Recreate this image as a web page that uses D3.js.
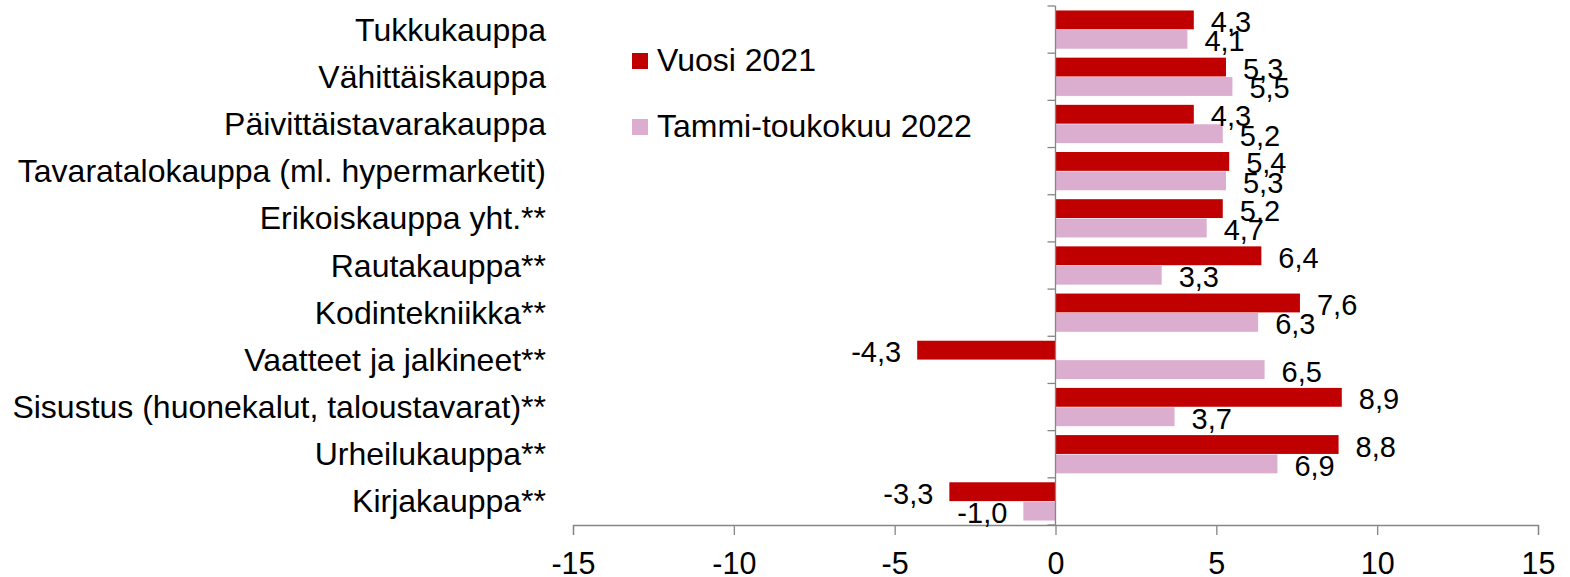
<!DOCTYPE html>
<html>
<head>
<meta charset="utf-8">
<script src="https://cdn.jsdelivr.net/npm/d3@7"></script>
<style>
  body { margin: 0; background: #fff; }
  svg { display: block; font-family: "Liberation Sans", Arial, sans-serif; }
</style>
</head>
<body>
<svg></svg>
<script>
/*
*  DATA
*/
let categories = [
  'Tukkukauppa',
  'Vähittäiskauppa',
  'Päivittäistavarakauppa',
  'Tavaratalokauppa (ml. hypermarketit)',
  'Erikoiskauppa yht.**',
  'Rautakauppa**',
  'Kodintekniikka**',
  'Vaatteet ja jalkineet**',
  'Sisustus (huonekalut, taloustavarat)**',
  'Urheilukauppa**',
  'Kirjakauppa**'
]
let vuosi2021 = [4.3, 5.3, 4.3, 5.4, 5.2, 6.4, 7.6, -4.3, 8.9, 8.8, -3.3]
let tammiToukokuu2022 = [4.1, 5.5, 5.2, 5.3, 4.7, 3.3, 6.3, 6.5, 3.7, 6.9, -1.0]
let seriesNames = ['Vuosi 2021', 'Tammi-toukokuu 2022']
let colors = ['#c00000', '#dbadce']
let xTicks = [-15, -10, -5, 0, 5, 10, 15]

/*
*  RUN
*/
let width = 1570,
    height = 577

let svg = d3.select('svg').attr('width', width).attr('height', height)

let x = d3.scaleLinear().domain([-15, 15]).range([573, 1538])
let y = d3.scaleBand().domain(categories).range([6, 525])
let inner = d3.scaleBand().domain([0, 1]).range([0, y.bandwidth()]).paddingOuter(0.23).paddingInner(0.03)

let fmt = v => d3.format('.1f')(v).replace('.', ',').replace('−', '-')

// bars
let series = [vuosi2021, tammiToukokuu2022]
series.forEach((vals, s) => {
  let g = svg.append('g').attr('class', 'series-' + s)
  g.selectAll('rect')
    .data(vals)
    .enter()
    .append('rect')
    .attr('x', d => x(Math.min(0, d)))
    .attr('y', (d, i) => y(categories[i]) + inner(s))
    .attr('width', d => Math.abs(x(d) - x(0)))
    .attr('height', inner.bandwidth())
    .attr('fill', colors[s])
})

// axes
let xAxis = d3.axisBottom(x).tickValues(xTicks).tickSize(10).tickFormat(d => d3.format('d')(d).replace('−', '-'))
let gx = svg.append('g').attr('transform', 'translate(0,525)').call(xAxis)
gx.select('.domain').attr('stroke', '#868686').attr('stroke-width', 1.3)
gx.selectAll('.tick line').attr('stroke', '#868686').attr('stroke-width', 1.3)
gx.selectAll('.tick text')
  .attr('y', 49)
  .attr('dy', 0)
  .attr('fill', '#000')
  .style('font-size', '30.5px')
  .style('font-family', '"Liberation Sans", Arial, sans-serif')

let boundaries = d3.range(categories.length + 1).map(i => 6 + i * y.step())
let gy = svg.append('g').attr('class', 'y-axis')
gy.append('line')
  .attr('x1', x(0)).attr('x2', x(0))
  .attr('y1', 6).attr('y2', 525)
  .attr('stroke', '#868686').attr('stroke-width', 1.3)
gy.selectAll('.yt')
  .data(boundaries)
  .enter()
  .append('line')
  .attr('class', 'yt')
  .attr('x1', x(0) - 8).attr('x2', x(0))
  .attr('y1', d => d).attr('y2', d => d)
  .attr('stroke', '#868686').attr('stroke-width', 1.3)

// category labels
svg.append('g').selectAll('text')
  .data(categories)
  .enter()
  .append('text')
  .attr('x', 546)
  .attr('y', d => y(d) + y.bandwidth() / 2 + 11)
  .attr('text-anchor', 'end')
  .style('font-size', '32px')
  .text(d => d)

// value labels
series.forEach((vals, s) => {
  svg.append('g').selectAll('text')
    .data(vals)
    .enter()
    .append('text')
    .attr('x', d => d >= 0 ? x(d) + 17 : x(d) - 16)
    .attr('y', (d, i) => y(categories[i]) + inner(s) + inner.bandwidth() / 2 + 12)
    .attr('text-anchor', d => d >= 0 ? 'start' : 'end')
    .style('font-size', '29px')
    .text(d => fmt(d))
})

// legend
let legend = svg.append('g').attr('class', 'legend')
seriesNames.forEach((name, i) => {
  legend.append('rect')
    .attr('x', 632).attr('y', 53 + i * 66)
    .attr('width', 16).attr('height', 16)
    .attr('fill', colors[i])
  legend.append('text')
    .attr('x', 657).attr('y', 71 + i * 66)
    .style('font-size', '32px')
    .text(name)
})
</script>
</body>
</html>
